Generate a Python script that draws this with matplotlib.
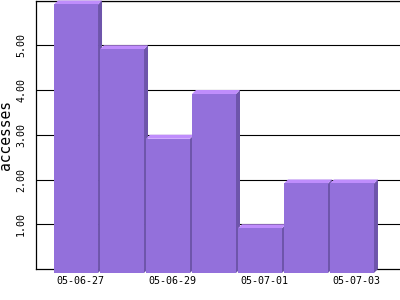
import numpy as np
import matplotlib
matplotlib.use('Agg')
import matplotlib.pyplot as plt
from matplotlib.patches import Polygon

# accesses per day
days = ['05-06-27', '05-06-28', '05-06-29', '05-06-30',
        '05-07-01', '05-07-02', '05-07-03']
accesses = [6, 5, 3, 4, 1, 2, 2]
yticks = [1, 2, 3, 4, 5, 6]

front_col = '#9370db'
top_col = '#bf8dfc'
side_col = '#6e55ab'

fig = plt.figure(figsize=(4, 3), dpi=100)
ax = fig.add_axes([36 / 400, 31 / 300, 364 / 400, 268.5 / 300])

x = np.arange(len(days))
w = 44 / 46.0
dx = 4 / 46.0
dy = 4 / 45.0

# fake 3d bars: front face shifted down-left, top and right side as polygons
for xi, v in zip(x, accesses):
    l, r = xi - w / 2, xi + w / 2
    side = Polygon([(r - dx, -dy), (r, 0), (r, v), (r - dx, v - dy)],
                   closed=True, fc=side_col, ec='none', zorder=3, clip_on=False)
    top = Polygon([(l - dx, v - dy), (l, v), (r, v), (r - dx, v - dy)],
                  closed=True, fc=top_col, ec='none', zorder=3, clip_on=False)
    ax.add_patch(side)
    ax.add_patch(top)
    ax.bar(xi - dx, v, width=w, bottom=-dy, color=front_col, zorder=3,
           clip_on=False)

ax.set_xlim(-0.957, 6.957)
ax.set_ylim(0, 6)

ax.set_yticks(yticks)
ax.set_yticklabels(['%.2f' % t for t in yticks[:-1]] + [''])
ax.yaxis.grid(True, color='black', linewidth=0.8, zorder=0)
ax.set_axisbelow(True)

ax.set_xticks(x[::2])
ax.set_xticklabels(days[::2])

mono = 'DejaVu Sans Mono'
for lab in ax.get_yticklabels():
    lab.set_family(mono)
    lab.set_fontsize(7.2)
    lab.set_rotation(90)
    lab.set_va('center')
for lab in ax.get_xticklabels():
    lab.set_family(mono)
    lab.set_fontsize(7.2)
ax.tick_params(axis='both', length=0)
ax.tick_params(axis='y', pad=7)
ax.tick_params(axis='x', pad=5)

ax.set_ylabel('accesses', family=mono, fontsize=10.5, labelpad=2)

ax.spines['right'].set_visible(False)
for s in ['left', 'bottom', 'top']:
    ax.spines[s].set_color('black')
    ax.spines[s].set_linewidth(0.9)

fig.savefig('out.png', dpi=100)
